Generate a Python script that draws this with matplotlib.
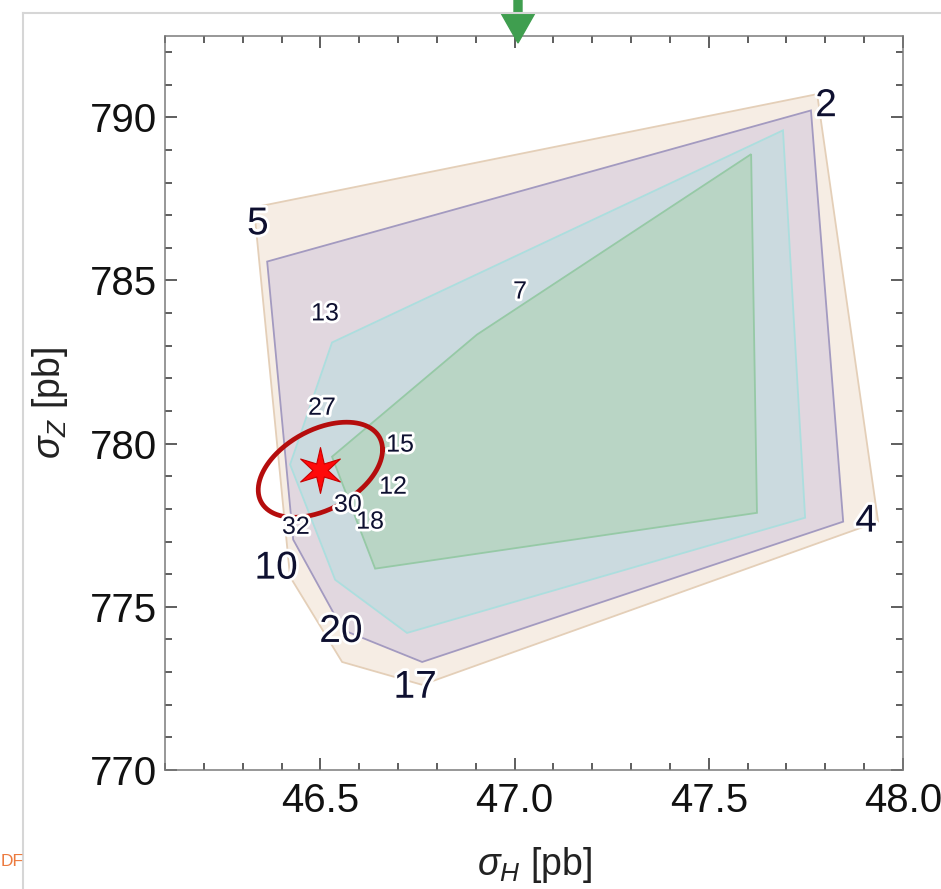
import numpy as np
import matplotlib
matplotlib.use('Agg')
import matplotlib.pyplot as plt
import matplotlib.patheffects as pe
from matplotlib.patches import FancyArrow
from matplotlib.lines import Line2D
from matplotlib.path import Path
from matplotlib.ticker import MultipleLocator, FormatStrFormatter

plt.rcParams['font.family'] = ['Liberation Sans', 'DejaVu Sans']
plt.rcParams['mathtext.fontset'] = 'custom'
plt.rcParams['mathtext.rm'] = 'Liberation Sans'
plt.rcParams['mathtext.it'] = 'Liberation Sans:italic'

# allowed regions (outer to inner), sigma_H [pb] vs sigma_Z [pb]
beige_x = [46.329, 47.779, 47.936, 46.762, 46.556, 46.422]
beige_y = [787.24, 790.71, 777.61, 772.61, 773.31, 775.92]

purple_x = [46.363, 47.763, 47.846, 46.762, 46.558, 46.430]
purple_y = [785.58, 790.21, 777.61, 773.31, 774.29, 777.06]

blue_x = [46.530, 47.691, 47.748, 46.723, 46.538, 46.422]
blue_y = [783.10, 789.60, 777.73, 774.20, 775.83, 779.36]

green_x = [46.903, 47.609, 47.624, 46.641, 46.530]
green_y = [783.34, 788.87, 777.88, 776.17, 779.60]

# point labels
big_labels = ['5', '2', '4', '10', '20', '17']
big_x = [46.339, 47.802, 47.905, 46.386, 46.553, 46.744]
big_y = [786.72, 790.34, 777.61, 776.17, 774.23, 772.52]

small_labels = ['13', '7', '27', '15', '12', '30', '18', '32']
small_x = [46.512, 47.014, 46.504, 46.705, 46.687, 46.571, 46.628, 46.437]
small_y = [783.99, 784.66, 781.10, 779.97, 778.68, 778.13, 777.61, 777.45]

# best fit and its error ellipse
best_x, best_y = 46.50, 779.2
ell_a, ell_b, ell_phase = 0.160, 1.457, np.deg2rad(65)

fig = plt.figure(figsize=(9.41, 8.89), dpi=100)
ax = fig.add_axes([0.17535, 0.13386, 0.78427, 0.82598])

layers = [
    (beige_x, beige_y, '#f6ede4', '#e4cfb8'),
    (purple_x, purple_y, '#e1d7df', '#a39ac0'),
    (blue_x, blue_y, '#cbdadf', '#acdede'),
    (green_x, green_y, '#b9d5c5', '#96c9a6'),
]
for xs, ys, fc, ec in layers:
    ax.fill(xs, ys, facecolor=fc, edgecolor=ec, linewidth=1.3, zorder=1)

t = np.linspace(0, 2 * np.pi, 300)
ax.plot(best_x + ell_a * np.cos(t), best_y + ell_b * np.cos(t - ell_phase),
        color='#b50d0d', lw=3.4, zorder=4)

# thin six-pointed star marker
ang = np.pi / 2 + np.arange(12) * np.pi / 6
rad = np.where(np.arange(12) % 2 == 0, 1.0, 0.33)
star_verts = np.column_stack([rad * np.cos(ang), rad * np.sin(ang)])
star = Path(np.vstack([star_verts, star_verts[:1]]), closed=True)
ax.plot([best_x], [best_y], marker=star, ms=33, color='#ff0a0a',
        mec='#c80000', mew=0.8, zorder=5)

halo = [pe.withStroke(linewidth=4, foreground='white')]
for s, x, y in zip(big_labels, big_x, big_y):
    ax.text(x, y, s, fontsize=28, color='#0e1030', ha='center', va='center',
            path_effects=halo, zorder=6)
for s, x, y in zip(small_labels, small_x, small_y):
    ax.text(x, y, s, fontsize=18, color='#0e1030', ha='center', va='center',
            path_effects=halo, zorder=6)

ax.set_xlim(46.1, 48.0)
ax.set_ylim(770, 792.5)
ax.xaxis.set_major_locator(MultipleLocator(0.5))
ax.xaxis.set_minor_locator(MultipleLocator(0.1))
ax.yaxis.set_major_locator(MultipleLocator(5))
ax.yaxis.set_minor_locator(MultipleLocator(1))
ax.xaxis.set_major_formatter(FormatStrFormatter('%.1f'))
ax.tick_params(which='both', direction='in', top=True, right=True,
               color='#333333', width=1.1, labelsize=29, labelcolor='#111111')
ax.tick_params(which='major', length=8.5)
ax.tick_params(which='minor', length=5)
ax.tick_params(axis='y', pad=6)
ax.tick_params(axis='x', pad=9)
for sp in ax.spines.values():
    sp.set_color('#7a7a7a')
    sp.set_linewidth(1.1)

ax.set_xlabel(r'$\sigma_H$ [pb]', fontsize=27, color='#222222', labelpad=18)
ax.set_ylabel(r'$\sigma_Z$ [pb]', fontsize=27, color='#222222', labelpad=14)

# page furniture visible in the screenshot
fig.add_artist(Line2D([23 / 941, 23 / 941], [0, 1 - 13 / 889], color='#d6d6d6', lw=1.5))
fig.add_artist(Line2D([23 / 941, 1], [1 - 13 / 889, 1 - 13 / 889], color='#d6d6d6', lw=1.5))
fig.patches.append(FancyArrow(5.18, 8.89, 0, -0.43, width=0.08, head_width=0.34,
                              head_length=0.30, length_includes_head=True,
                              color='#3f9e4f', transform=fig.dpi_scale_trans, figure=fig))
fig.text(1 / 941, 1 - 862 / 889, 'DF', fontsize=12.5, color='#ec7a3e',
         ha='left', va='center')

fig.savefig('out.png', dpi=100)
